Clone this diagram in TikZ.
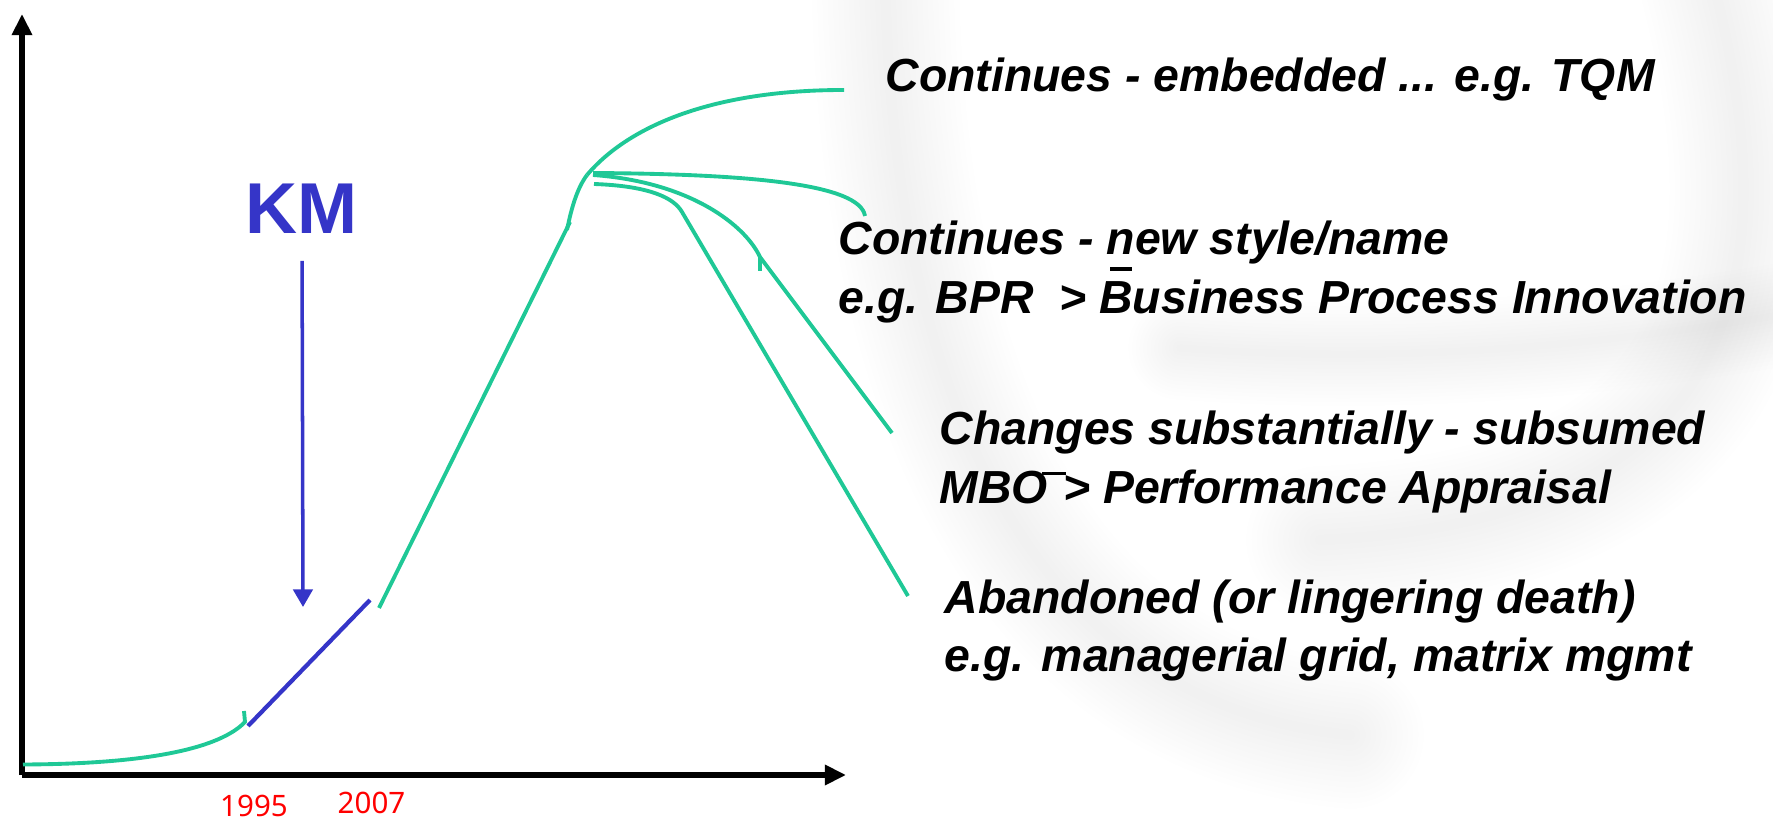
\documentclass[tikz,border=0pt]{standalone}
\usepackage{fontspec}
\setmainfont{Liberation Sans}
\newfontfamily\yearfont{Noto Sans}
\usetikzlibrary{arrows.meta}
\definecolor{curve}{HTML}{1FC896}
\definecolor{kmblue}{HTML}{3535C8}
\definecolor{yearred}{HTML}{FF0000}
\tikzset{
  axisline/.style={draw=black, line width=1.5pt, -{Triangle[length=6pt,width=5.5pt]}},
  greenline/.style={draw=curve, line width=1.1pt},
  blueline/.style={draw=kmblue, line width=1.2pt},
  kmarrow/.style={draw=kmblue, line width=1pt, -{Triangle[length=5pt,width=5.5pt]}},
  lab/.style={font=\fontsize{13.2}{16.6}\selectfont\bfseries\itshape, align=left, anchor=west, inner sep=0pt},
  yr/.style={text=yearred, font=\yearfont\fontsize{8.4}{10}\selectfont, inner sep=0pt},
  swirl/.style={draw=black, opacity=0.004, line cap=round},
}

\begin{document}
\begin{tikzpicture}
  \useasboundingbox (0,0) rectangle (17.73,8.20);
  \foreach \w in {3,6,...,42} {
    \draw[swirl, line width=\w pt] (8.85,8.5) .. controls (8.9,4.8) and (10.0,1.2) .. (13.5,0.85);
    \draw[swirl, line width=\w pt] (17.1,8.5) .. controls (17.9,5.5) and (17.5,3.0) .. (13.2,2.8);
    \draw[swirl, line width=0.7*\w pt] (11.8,4.72) .. controls (14.0,4.55) and (16.0,4.75) .. (17.8,5.05);
  }

  \coordinate (O) at (0.22,0.45);
  \coordinate (Ytop) at (0.22,8.06);
  \coordinate (Xend) at (8.46,0.45);
  \draw[axisline] (O) -- (Ytop);
  \draw[axisline] (O) -- (Xend);

  \coordinate (S) at (0.23,0.555);
  \coordinate (P1) at (2.45,0.98);
  \coordinate (B1) at (2.48,0.94);
  \coordinate (B2) at (3.70,2.20);
  \coordinate (R1) at (3.79,2.12);
  \coordinate (R2) at (5.70,5.98);
  \coordinate (A) at (5.87,6.45);
  \coordinate (E1) at (8.44,7.30);
  \coordinate (E2) at (8.65,6.04);
  \coordinate (C3) at (7.60,5.63);
  \coordinate (E3) at (8.92,3.87);
  \coordinate (C4) at (6.82,6.08);
  \coordinate (E4) at (9.08,2.24);

  \draw[greenline] (S) .. controls (1.5,0.56) and (2.2,0.72) .. (P1) -- ++(-0.01,0.11);
  \draw[blueline] (B1) -- (B2);
  \draw[greenline] (R1) -- (R2);
  \draw[greenline] (5.67,5.90) .. controls (5.72,6.15) and (5.78,6.33) .. (A);
  \draw[greenline] (A) .. controls (6.25,6.90) and (7.05,7.30) .. (E1);
  \draw[greenline] (5.93,6.47) .. controls (7.5,6.46) and (8.6,6.36) .. (E2);
  \draw[greenline] (5.93,6.45) .. controls (6.9,6.38) and (7.45,5.95) .. (C3) -- ++(0.0,-0.14);
  \draw[greenline] (C3) -- (E3);
  \draw[greenline] (5.94,6.36) .. controls (6.5,6.34) and (6.74,6.22) .. (C4) -- (E4);

  \node[text=kmblue, font=\fontsize{20.5}{24}\selectfont\bfseries, inner sep=0pt] (km) at (3.02,6.11) {KM};
  \coordinate (kmtip) at (3.03,2.13);
  \draw[kmarrow, shorten <=7.5pt] (km.south) -- (kmtip);

  \node[yr] (y95) at (2.54,0.14) {1995};
  \node[yr] (y07) at (3.715,0.175) {2007};

  \node[lab] (embedded) at (8.85,7.40) {Continues - embedded ... e.g. TQM};
  \node[lab] (newname) at (8.38,5.48) {Continues - new style/name\\e.g. BPR \ > Business Process Innovation};
  \node[lab] (subsumed) at (9.39,3.58) {Changes substantially - subsumed\\MBO\kern-0.12em\raisebox{0.6em}{\rule{0.5em}{0.9pt}}\kern-0.05em> Performance Appraisal};
  \node[lab] (abandoned) at (9.44,1.895) {Abandoned (or lingering death)\\e.g. managerial grid, matrix mgmt};
  \draw[line width=0.9pt] (11.10,5.51) -- (11.32,5.51);
\end{tikzpicture}
\end{document}
